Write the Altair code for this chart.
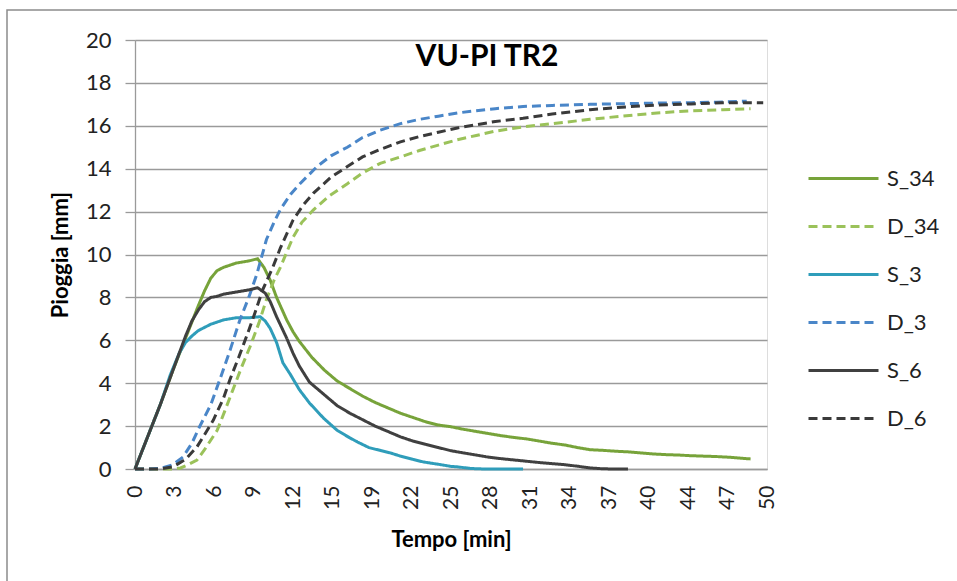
import altair as alt
import pandas as pd

# ---- data ----
s34_x = [0, 1, 2, 3, 4, 5, 5.5, 6, 6.5, 7, 8, 9, 9.7, 10.2, 10.7, 11.2, 12, 12.5, 13, 14, 15, 16, 17, 18,
         19, 20, 21, 22, 23, 24, 25, 26, 27, 28, 29, 30, 31, 32, 33, 34, 35, 36, 37, 38, 39, 40, 41, 42,
         43, 44, 45, 46, 47, 48, 48.7]
s34_y = [0, 1.5, 3.0, 4.6, 6.1, 7.6, 8.3, 8.9, 9.25, 9.4, 9.6, 9.7, 9.8, 9.4, 8.8, 8.0, 6.95, 6.4, 5.95,
         5.2, 4.6, 4.1, 3.75, 3.4, 3.1, 2.85, 2.6, 2.4, 2.2, 2.05, 1.97, 1.85, 1.75, 1.65, 1.55, 1.47, 1.4,
         1.3, 1.2, 1.12, 1.0, 0.9, 0.87, 0.83, 0.8, 0.75, 0.7, 0.67, 0.65, 0.62, 0.6, 0.58, 0.55, 0.5, 0.47]

d34_x = [0, 2, 3, 3.6, 4.2, 4.9, 5.5, 6.5, 7.1, 7.75, 8.4, 9.1, 9.8, 10.4, 11, 11.5, 12, 12.5, 13.2,
         14.1, 15.4, 16.8, 18, 19.4, 21, 22.5, 24, 25.5, 27, 28.5, 30.7, 33, 36, 38.5, 41.3, 44, 46.5, 48.7]
d34_y = [0, 0, 0, 0.05, 0.2, 0.42, 0.9, 1.8, 2.7, 3.7, 4.7, 5.7, 6.8, 7.9, 8.8, 9.4, 10.1, 10.8, 11.5,
         12.07, 12.75, 13.3, 13.8, 14.25, 14.55, 14.85, 15.1, 15.35, 15.55, 15.75, 15.95, 16.1, 16.3,
         16.45, 16.6, 16.7, 16.75, 16.8]

s3_x = [0, 1, 2, 2.8, 3.5, 4, 4.5, 5, 5.5, 6, 6.5, 7, 7.5, 8, 9, 9.9, 10.3, 10.7, 11.2, 11.7, 12.3, 13,
        13.8, 14.9, 16, 17, 17.6, 18.5, 19.5, 20.2, 21, 22, 22.8, 24, 25, 25.5, 26.5, 27, 28, 29, 30, 30.7]
s3_y = [0, 1.5, 3.0, 4.4, 5.4, 5.9, 6.2, 6.45, 6.6, 6.75, 6.85, 6.95, 7.0, 7.05, 7.05, 7.1, 6.9, 6.55,
        5.9, 4.95, 4.4, 3.7, 3.08, 2.38, 1.8, 1.45, 1.26, 1.0, 0.85, 0.75, 0.6, 0.45, 0.33, 0.22, 0.12,
        0.1, 0.03, 0.01, 0, 0, 0, 0]

d3_x = [0, 1, 2, 3, 3.8, 4.5, 5.1, 6, 6.7, 7.5, 8.3, 9, 9.65, 10.4, 11, 11.5, 12.3, 13.05, 14.4, 15.5,
        16.8, 18, 19.4, 21, 22.5, 24, 25.5, 27, 28.5, 30.7, 33, 36, 38.5, 41.3, 44, 46, 48.4]
d3_y = [0, 0, 0.03, 0.2, 0.56, 1.2, 1.96, 3.0, 4.15, 5.5, 6.95, 8.0, 9.1, 10.7, 11.5, 12.1, 12.8, 13.3,
        14.1, 14.6, 15.0, 15.45, 15.8, 16.1, 16.3, 16.45, 16.6, 16.7, 16.8, 16.9, 16.95, 17.0, 17.03,
        17.06, 17.08, 17.1, 17.15]

s6_x = [0, 1, 2, 3, 3.5, 4, 4.5, 5, 5.5, 6, 6.5, 7, 8, 9, 9.7, 10.3, 10.7, 11.2, 12, 12.5, 13, 13.8,
        14.9, 16, 17, 18, 19, 20, 21, 22, 23, 24, 25, 26, 27, 28, 29, 30, 31, 32, 33, 34, 35, 36, 37,
        38, 39]
s6_y = [0, 1.5, 3.0, 4.6, 5.4, 6.2, 6.9, 7.4, 7.8, 8.0, 8.05, 8.15, 8.25, 8.35, 8.45, 8.2, 7.8, 7.1,
        6.1, 5.4, 4.8, 4.05, 3.5, 2.95, 2.6, 2.3, 2.0, 1.75, 1.5, 1.3, 1.15, 1.0, 0.85, 0.75, 0.65, 0.55,
        0.48, 0.42, 0.36, 0.3, 0.25, 0.2, 0.13, 0.05, 0.01, 0, 0]

d6_x = [0, 1, 2, 3, 4, 4.9, 5.5, 6.2, 7, 7.5, 8.2, 8.9, 9.5, 10.1, 10.9, 11.5, 12.5, 13.3, 14.1, 15.5,
        16.8, 18, 19.4, 21, 22.5, 24, 25.5, 27, 28.5, 30.7, 33, 36, 38.5, 41.3, 44, 46.5, 48, 49.7]
d6_y = [0, 0, 0, 0.1, 0.45, 1.03, 1.6, 2.28, 3.3, 4.15, 5.2, 6.3, 7.3, 8.35, 9.4, 10.3, 11.6, 12.3,
        12.85, 13.6, 14.1, 14.55, 14.9, 15.25, 15.5, 15.7, 15.9, 16.05, 16.2, 16.35, 16.55, 16.75, 16.87,
        16.97, 17.02, 17.07, 17.08, 17.07]

series_names = ["S_34", "D_34", "S_3", "D_3", "S_6", "D_6"]
series_colors = ["#77A33A", "#9BC25A", "#2F9DBA", "#4A86C8", "#404040", "#3A3A3A"]
series_dash = [[1, 0], [9, 5], [1, 0], [9, 5], [1, 0], [9, 5]]

x_tick_labels = ["0", "3", "6", "9", "12", "15", "19", "22", "25", "28", "31", "34", "37", "40", "44", "47", "50"]
chart_title = "VU-PI TR2"

series_data = {
    "S_34": (s34_x, s34_y), "D_34": (d34_x, d34_y),
    "S_3": (s3_x, s3_y), "D_3": (d3_x, d3_y),
    "S_6": (s6_x, s6_y), "D_6": (d6_x, d6_y),
}
rows = []
for name in series_names:
    xs, ys = series_data[name]
    for i, (xv, yv) in enumerate(zip(xs, ys)):
        rows.append({"series": name, "t": xv, "v": yv, "order": i})
df = pd.DataFrame(rows)

FONT = "Lato"
W, H = 632, 429
tick_vals = [k * 50 / 16 for k in range(17)]
label_arr = "[" + ",".join("'" + s + "'" for s in x_tick_labels) + "]"

lines = alt.Chart(df).mark_line(strokeWidth=3, clip=False).encode(
    x=alt.X("t:Q", scale=alt.Scale(domain=[0, 50], nice=False),
            axis=alt.Axis(title="Tempo [min]", values=tick_vals,
                          labelExpr=label_arr + "[round(datum.value / 3.125)]",
                          labelAngle=-90, labelFont=FONT, labelFontSize=21, labelColor="#222222",
                          labelPadding=16, ticks=False, domain=True, domainColor="#9a9a9a",
                          domainWidth=1.3, grid=False, titleFont=FONT, titleFontSize=22,
                          titleFontWeight="bold", titleColor="#000000", titlePadding=20)),
    y=alt.Y("v:Q", scale=alt.Scale(domain=[0, 20], nice=False),
            axis=alt.Axis(title="Pioggia [mm]", values=list(range(0, 21, 2)), labelFont=FONT,
                          labelFontSize=22, labelColor="#222222", labelPadding=14,
                          ticks=True, tickSize=10, tickColor="#9a9a9a", tickWidth=1.3,
                          domain=True, domainColor="#9a9a9a", domainWidth=1.3,
                          grid=True, gridColor="#9a9a9a", gridWidth=1.3,
                          titleFont=FONT, titleFontSize=22, titleFontWeight="bold",
                          titleColor="#000000", titlePadding=13)),
    color=alt.Color("series:N", scale=alt.Scale(domain=series_names, range=series_colors),
                    legend=alt.Legend(title=None, orient="none", legendX=672, legendY=102,
                                      symbolType="stroke", symbolSize=4900, symbolStrokeWidth=3,
                                      labelFont=FONT, labelFontSize=22, labelColor="#222222",
                                      labelOffset=7, rowPadding=0)),
    strokeDash=alt.StrokeDash("series:N", scale=alt.Scale(domain=series_names, range=series_dash),
                              legend=None),
    order="order:Q",
    detail="series:N",
)

frame = alt.Chart(pd.DataFrame({"f": [1]})).mark_rect(
    fill=None, stroke="#8c8c8c", strokeWidth=1.5, clip=False
).encode(
    x=alt.value(-128), x2=alt.value(830),
    y=alt.value(-30), y2=alt.value(560),
)

title_text = alt.Chart(pd.DataFrame({"label": [chart_title]})).mark_text(
    font=FONT, fontSize=30, fontWeight="bold", color="#000000", align="center", baseline="alphabetic"
).encode(
    text="label:N", x=alt.value(352), y=alt.value(26),
)

chart = alt.layer(frame, lines, title_text).properties(
    width=W, height=H,
    autosize=alt.AutoSizeParams(type="none"),
    padding={"left": 135, "top": 40, "right": 190, "bottom": 112},
).configure_view(stroke=None).configure(background="white")

chart.save("out.html", embed_options={"renderer": "svg", "actions": False})
